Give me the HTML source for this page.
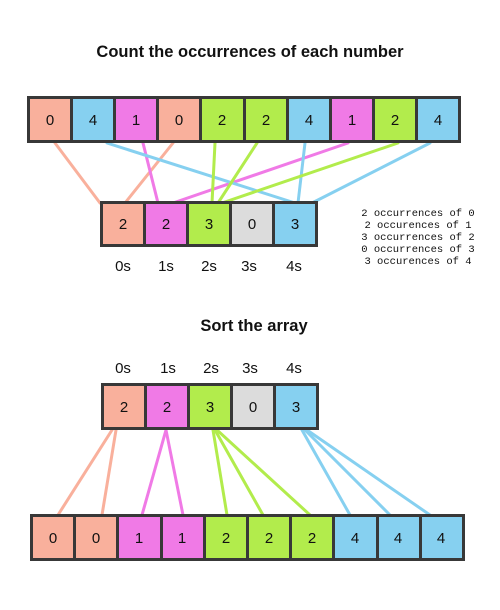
<!DOCTYPE html>
<html><head><meta charset="utf-8"><style>html,body{margin:0;padding:0;background:#fff}svg{display:block}</style></head>
<body>
<svg width="500" height="610" xmlns="http://www.w3.org/2000/svg" font-family="Liberation Sans, sans-serif">
<text x="250" y="57" text-anchor="middle" font-size="16.5" font-weight="bold" fill="#111">Count the occurrences of each number</text>
<text x="254" y="331" text-anchor="middle" font-size="16.5" font-weight="bold" fill="#111">Sort the array</text>

<g stroke-width="3" stroke-linecap="round">
<line x1="55" y1="143" x2="100" y2="203" stroke="#f9b09c"/>
<line x1="173" y1="143" x2="125" y2="203" stroke="#f9b09c"/>
<line x1="143" y1="143" x2="158" y2="203" stroke="#f07ae6"/>
<line x1="348" y1="143" x2="173" y2="203" stroke="#f07ae6"/>
<line x1="107" y1="143" x2="295" y2="203" stroke="#86d0f0"/>
<line x1="305" y1="143" x2="298" y2="203" stroke="#86d0f0"/>
<line x1="430" y1="143" x2="312" y2="203" stroke="#86d0f0"/>
<line x1="215" y1="143" x2="212" y2="203" stroke="#b2ec4c"/>
<line x1="257" y1="143" x2="218" y2="203" stroke="#b2ec4c"/>
<line x1="398" y1="143" x2="222" y2="203" stroke="#b2ec4c"/>

<line x1="112" y1="430" x2="58" y2="515" stroke="#f9b09c"/>
<line x1="116" y1="430" x2="102" y2="515" stroke="#f9b09c"/>
<line x1="166" y1="430" x2="142" y2="515" stroke="#f07ae6"/>
<line x1="166" y1="430" x2="183" y2="515" stroke="#f07ae6"/>
<line x1="213" y1="430" x2="227" y2="515" stroke="#b2ec4c"/>
<line x1="215" y1="430" x2="263" y2="515" stroke="#b2ec4c"/>
<line x1="217" y1="430" x2="310" y2="515" stroke="#b2ec4c"/>
<line x1="302" y1="430" x2="350" y2="515" stroke="#86d0f0"/>
<line x1="305" y1="430" x2="390" y2="515" stroke="#86d0f0"/>
<line x1="307" y1="430" x2="430" y2="515" stroke="#86d0f0"/>
</g>

<rect x="27" y="96" width="434" height="47" fill="#383838"/>
<g font-size="15" text-anchor="middle" fill="#111">
<rect x="30" y="99" width="40" height="41" fill="#f9b09c"/><text x="50" y="125">0</text>
<rect x="73" y="99" width="40" height="41" fill="#86d0f0"/><text x="93" y="125">4</text>
<rect x="116" y="99" width="40" height="41" fill="#f07ae6"/><text x="136" y="125">1</text>
<rect x="159" y="99" width="40" height="41" fill="#f9b09c"/><text x="179" y="125">0</text>
<rect x="202" y="99" width="41" height="41" fill="#b2ec4c"/><text x="222" y="125">2</text>
<rect x="246" y="99" width="40" height="41" fill="#b2ec4c"/><text x="266" y="125">2</text>
<rect x="289" y="99" width="40" height="41" fill="#86d0f0"/><text x="309" y="125">4</text>
<rect x="332" y="99" width="40" height="41" fill="#f07ae6"/><text x="352" y="125">1</text>
<rect x="375" y="99" width="40" height="41" fill="#b2ec4c"/><text x="395" y="125">2</text>
<rect x="418" y="99" width="40" height="41" fill="#86d0f0"/><text x="438" y="125">4</text>
</g>

<rect x="100" y="201" width="218" height="46" fill="#383838"/>
<g font-size="15" text-anchor="middle" fill="#111">
<rect x="103" y="204" width="40" height="40" fill="#f9b09c"/><text x="123" y="229">2</text>
<rect x="146" y="204" width="40" height="40" fill="#f07ae6"/><text x="166" y="229">2</text>
<rect x="189" y="204" width="40" height="40" fill="#b2ec4c"/><text x="209" y="229">3</text>
<rect x="232" y="204" width="40" height="40" fill="#dcdcdc"/><text x="252" y="229">0</text>
<rect x="275" y="204" width="40" height="40" fill="#86d0f0"/><text x="295" y="229">3</text>
</g>
<g font-size="15" text-anchor="middle" fill="#111">
<text x="123" y="271">0s</text><text x="166" y="271">1s</text><text x="209" y="271">2s</text><text x="249" y="271">3s</text><text x="294" y="271">4s</text>
<text x="123" y="373">0s</text><text x="168" y="373">1s</text><text x="211" y="373">2s</text><text x="250" y="373">3s</text><text x="294" y="373">4s</text>
</g>
<g font-family="Liberation Mono, monospace" font-size="10.5" text-anchor="middle" fill="#111">
<text x="418" y="216">2 occurrences of 0</text>
<text x="418" y="228">2 occurences of 1</text>
<text x="418" y="240">3 occurrences of 2</text>
<text x="418" y="252">0 occurrences of 3</text>
<text x="418" y="264">3 occurences of 4</text>
</g>

<rect x="101" y="383" width="218" height="47" fill="#383838"/>
<g font-size="15" text-anchor="middle" fill="#111">
<rect x="104" y="386" width="40" height="41" fill="#f9b09c"/><text x="124" y="412">2</text>
<rect x="147" y="386" width="40" height="41" fill="#f07ae6"/><text x="167" y="412">2</text>
<rect x="190" y="386" width="40" height="41" fill="#b2ec4c"/><text x="210" y="412">3</text>
<rect x="233" y="386" width="40" height="41" fill="#dcdcdc"/><text x="253" y="412">0</text>
<rect x="276" y="386" width="40" height="41" fill="#86d0f0"/><text x="296" y="412">3</text>
</g>

<rect x="30" y="514" width="435" height="47" fill="#383838"/>
<g font-size="15" text-anchor="middle" fill="#111">
<rect x="33" y="517" width="40" height="41" fill="#f9b09c"/><text x="53" y="543">0</text>
<rect x="76" y="517" width="40" height="41" fill="#f9b09c"/><text x="96" y="543">0</text>
<rect x="119" y="517" width="41" height="41" fill="#f07ae6"/><text x="139" y="543">1</text>
<rect x="163" y="517" width="40" height="41" fill="#f07ae6"/><text x="182" y="543">1</text>
<rect x="206" y="517" width="40" height="41" fill="#b2ec4c"/><text x="226" y="543">2</text>
<rect x="249" y="517" width="40" height="41" fill="#b2ec4c"/><text x="269" y="543">2</text>
<rect x="292" y="517" width="40" height="41" fill="#b2ec4c"/><text x="312" y="543">2</text>
<rect x="335" y="517" width="41" height="41" fill="#86d0f0"/><text x="355" y="543">4</text>
<rect x="379" y="517" width="40" height="41" fill="#86d0f0"/><text x="398" y="543">4</text>
<rect x="422" y="517" width="40" height="41" fill="#86d0f0"/><text x="441" y="543">4</text>
</g>
</svg>
</body></html>
